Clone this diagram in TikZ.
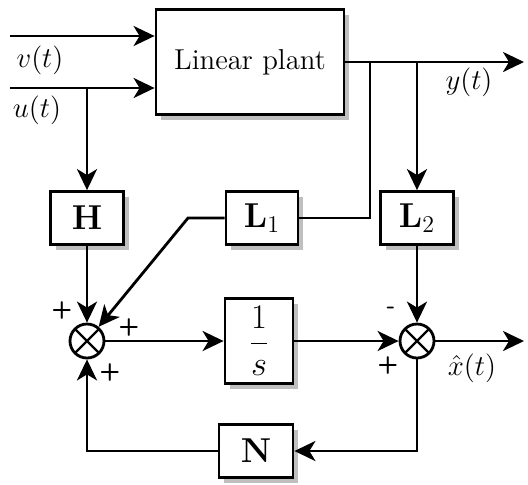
\documentclass[tikz,border=0pt]{standalone}
\usetikzlibrary{arrows.meta,shadows}
\begin{document}
\begin{tikzpicture}[x=0.5pt,y=-0.5pt,line width=1.4pt,
  >={Stealth[length=10.5pt,width=10pt,inset=3pt]},
  blk/.style={draw,fill=white,inner sep=0pt,font=\LARGE,
    drop shadow={shadow xshift=2.5pt,shadow yshift=-2.5pt,fill=black!25,opacity=1}},
  sumnode/.style={circle,draw,fill=white,minimum size=17pt,inner sep=0pt,
    path picture={\draw[line width=1.2pt] (path picture bounding box.north west) -- (path picture bounding box.south east)
      (path picture bounding box.north east) -- (path picture bounding box.south west);}},
  lbl/.style={font=\Large,inner sep=1pt},
  sgn/.style={font=\large\sffamily\bfseries,inner sep=1pt}]
\useasboundingbox (0,0) rectangle (528,484);

\node[blk,font=\Large,minimum width=94pt,minimum height=52.5pt] (plant) at (250,62) {Linear plant};
\node[blk,minimum width=36.5pt,minimum height=26.5pt] (H) at (87,218) {\(\mathbf{H}\)};
\node[blk,minimum width=36pt,minimum height=26.5pt] (L1) at (262,218) {\(\mathbf{L}_1\)};
\node[blk,minimum width=36.5pt,minimum height=26.5pt] (L2) at (417,218) {\(\mathbf{L}_2\)};
\node[blk,minimum width=34pt,minimum height=42.5pt] (integ) at (259,341) {\(\displaystyle\frac{1}{s}\)};
\node[blk,minimum width=37pt,minimum height=26.5pt] (N) at (256,451) {\(\mathbf{N}\)};
\node[sumnode] (sum1) at (87,341) {};
\node[sumnode] (sum2) at (417,341) {};

\coordinate (vin) at (10,36);
\coordinate (uin) at (10,88);
\coordinate (ubr) at (87,88);
\coordinate (yout) at (524,62);
\coordinate (ybr1) at (370,62);
\coordinate (ybr2) at (417,62);
\coordinate (l1c) at (188,218);
\coordinate (xout) at (524,341);

\draw[->] (vin) -- (vin -| plant.west);
\draw[->] (uin) -- (uin -| plant.west);
\draw[->] (ubr) -- (H.north);
\draw[->] (plant.east) -- (yout);
\draw (ybr1) |- (L1.east);
\draw[->] (ybr2) -- (L2.north);
\draw[->] (L1.west) -- (l1c) -- (sum1);
\draw[->] (H) -- (sum1);
\draw[->] (sum1) -- (integ);
\draw[->] (integ) -- (sum2);
\draw[->] (L2) -- (sum2);
\draw[->] (sum2) -- (xout);
\draw[->] (sum2) |- (N);
\draw[->] (N) -| (sum1);

\node[lbl] (vlab) at (40,60) {\(v(t)\)};
\node[lbl] (ulab) at (37,110) {\(u(t)\)};
\node[lbl] (ylab) at (469,82) {\(y(t)\)};
\node[lbl] (xlab) at (472,368) {\(\hat{x}(t)\)};

\node[sgn] (s1a) at (62,310) {+};
\node[sgn] (s1b) at (129,327) {+};
\node[sgn] (s1c) at (110,372) {+};
\node[sgn] (s2a) at (391,310) {-};
\node[sgn] (s2b) at (388,365) {+};
\end{tikzpicture}
\end{document}
